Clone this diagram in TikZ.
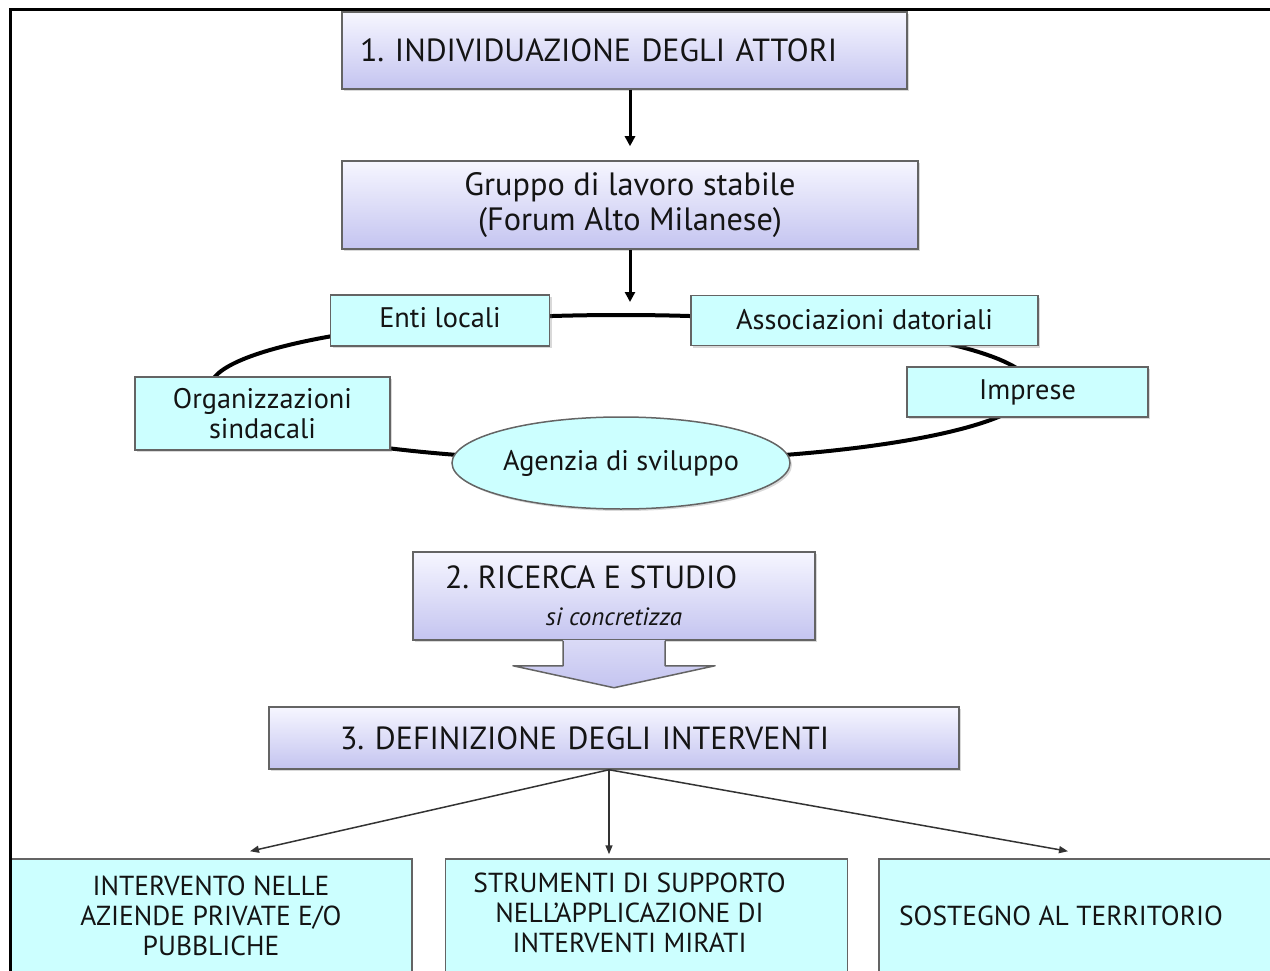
\documentclass[tikz,border=0pt]{standalone}
\usepackage{fontspec}
\setmainfont{PT Sans}
\usepackage{xcolor}
\usepackage{tikz}
\usetikzlibrary{arrows.meta,positioning,calc,shapes.geometric,shadows}
\definecolor{lavtop}{RGB}{246,246,255}
\definecolor{lavbot}{RGB}{196,196,240}
\definecolor{acqua}{RGB}{204,255,255}
\definecolor{bordo}{RGB}{100,100,100}
\definecolor{inchiostro}{RGB}{20,20,20}
\frenchspacing

\begin{document}
\begin{tikzpicture}[x=1pt,y=-1pt,
  fase/.style={draw=bordo,line width=1.5pt,top color=lavtop,bottom color=lavbot,
    text=inchiostro,inner sep=0pt,font=\fontsize{32}{38}\selectfont,
    drop shadow={shadow xshift=2pt,shadow yshift=-2pt,opacity=.3}},
  attore/.style={draw=bordo,line width=1.5pt,fill=acqua,text=inchiostro,
    inner sep=0pt,align=center,font=\fontsize{28.3}{30}\selectfont,
    drop shadow={shadow xshift=2pt,shadow yshift=-2pt,opacity=.3}},
  esito/.style={draw=bordo,line width=1.5pt,fill=acqua,text=inchiostro,
    inner sep=0pt,minimum width=402pt,minimum height=114pt,
    font=\fontsize{27.5}{30}\selectfont},
  freccia/.style={-{Triangle[length=10pt,width=10pt]},line width=3pt},
  ramo/.style={-{Triangle[length=9pt,width=7pt]},line width=1.5pt,draw=black!80}]
  \useasboundingbox (0,0) rectangle (1270,971);
  \clip (0,0) rectangle (1270,971);

  % fase 1
  \node[fase,minimum height=77pt,text width=529pt,inner xsep=18pt,align=left]
    (attori) at (624.5,50.5) {1. INDIVIDUAZIONE DEGLI ATTORI};
  \node[fase,minimum width=576pt,minimum height=88pt,align=center,
    font=\fontsize{32.3}{35}\selectfont]
    (gruppo) at (630,205) {Gruppo di lavoro stabile\\(Forum Alto Milanese)};
  \draw[freccia,shorten >=14pt] (attori.south -| gruppo.north) -- (gruppo.north);
  \coordinate (cima) at (630,302);
  \draw[freccia] (gruppo.south) -- (cima);

  % anello degli attori
  \coordinate (anello) at (621,388);
  \draw[line width=4pt] (anello) ellipse [x radius=411pt, y radius=73pt];
  \node[attore,minimum width=219pt,minimum height=51pt] (enti) at (440,320.5)
    {\raisebox{6pt}{Enti locali}};
  \node[attore,minimum width=347pt,minimum height=50pt] (assoc) at (864.5,320.5)
    {\raisebox{3pt}{Associazioni datoriali}};
  \node[attore,minimum width=255pt,minimum height=73pt] (sindac) at (262.5,413.5)
    {Organizzazioni\\sindacali};
  \node[attore,minimum width=241pt,minimum height=50pt] (imprese) at (1027.5,392)
    {\raisebox{2pt}{Imprese}};
  \node[attore,ellipse,minimum width=338pt,minimum height=92pt] (agenzia) at (621,463)
    {Agenzia di sviluppo};

  % fase 2
  \node[fase,minimum width=402pt,minimum height=88pt,align=center] (ricerca) at (614,596)
    {\makebox[338pt][l]{2. RICERCA E STUDIO}\\[-1pt]{\itshape\fontsize{25}{28}\selectfont si concretizza}};
  \fill[top color=lavbot!55!lavtop,bottom color=lavbot]
    ($(ricerca.south)+(-51,-1)$) -- ($(ricerca.south)+(-51,25)$) -- ($(ricerca.south)+(-101,25)$)
    -- ($(ricerca.south)+(0,47)$) -- ($(ricerca.south)+(101,25)$) -- ($(ricerca.south)+(51,25)$)
    -- ($(ricerca.south)+(51,-1)$) -- cycle;
  \draw[bordo,line width=1.5pt,line join=round]
    ($(ricerca.south)+(-51,0)$) -- ($(ricerca.south)+(-51,25)$) -- ($(ricerca.south)+(-101,25)$)
    -- ($(ricerca.south)+(0,47)$) -- ($(ricerca.south)+(101,25)$) -- ($(ricerca.south)+(51,25)$)
    -- ($(ricerca.south)+(51,0)$);

  % fase 3
  \node[fase,minimum height=62pt,text width=548pt,inner xsep=71pt,align=left]
    (defin) at (614,738) {3. DEFINIZIONE DEGLI INTERVENTI};
  \node[esito,align=center] (aziende) at (211,916)
    {INTERVENTO NELLE\\AZIENDE PRIVATE E/O\\PUBBLICHE};
  \node[esito] (strumenti) at (646.5,916)
    {\kern-34pt\begin{tabular}{@{}c@{}}STRUMENTI DI SUPPORTO\\NELL'APPLICAZIONE DI\\INTERVENTI MIRATI\end{tabular}};
  \node[esito] (territorio) at (1080,916) {\kern-38pt SOSTEGNO AL TERRITORIO};
  \coordinate (snodo) at ([xshift=-5pt]defin.south);
  \draw[ramo] (snodo) -- ([xshift=39pt,yshift=7pt]aziende.north);
  \draw[ramo] (snodo) -- ([xshift=-37.5pt,yshift=4pt]strumenti.north);
  \draw[ramo] (snodo) -- ([xshift=-12pt,yshift=7pt]territorio.north);

  % cornice
  \draw[line width=3pt] (10,980) -- (10,10) -- (1280,10);
\end{tikzpicture}
\end{document}
